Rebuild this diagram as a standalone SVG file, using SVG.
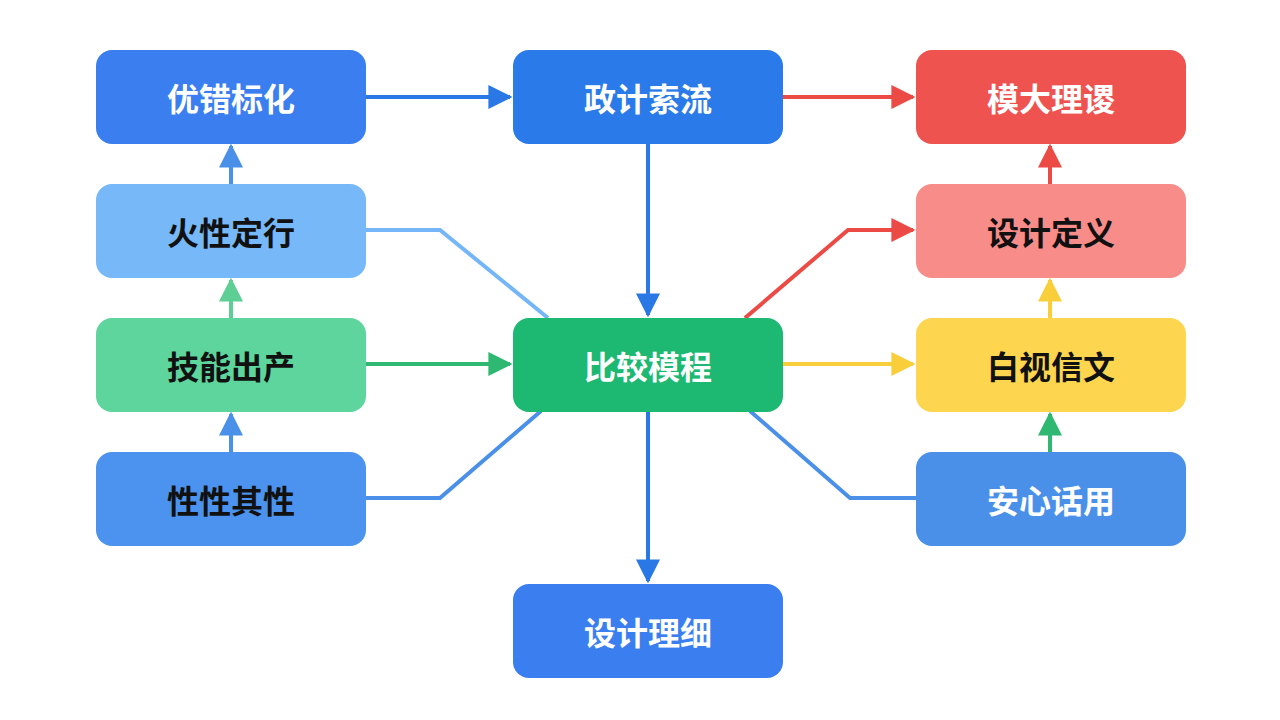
<svg xmlns="http://www.w3.org/2000/svg" width="1280" height="720" viewBox="0 0 1280 720">
<style>
text{font-family:"Noto Sans CJK SC","Noto Sans",sans-serif;font-size:32px;font-weight:bold;text-anchor:middle;dominant-baseline:central}
.w{fill:#fff}.k{fill:#111}
.c{fill:none;stroke-width:4}
</style>
<defs>
<marker id="mb" viewBox="0 0 10 10" refX="9" refY="5" markerWidth="6" markerHeight="6" markerUnits="strokeWidth" orient="auto"><path d="M0,0L10,5L0,10z" fill="#2a78e6"/></marker>
<marker id="mlb" viewBox="0 0 10 10" refX="9" refY="5" markerWidth="6" markerHeight="6" markerUnits="strokeWidth" orient="auto"><path d="M0,0L10,5L0,10z" fill="#4a90e8"/></marker>
<marker id="mg" viewBox="0 0 10 10" refX="9" refY="5" markerWidth="6" markerHeight="6" markerUnits="strokeWidth" orient="auto"><path d="M0,0L10,5L0,10z" fill="#2fb872"/></marker>
<marker id="mlg" viewBox="0 0 10 10" refX="9" refY="5" markerWidth="6" markerHeight="6" markerUnits="strokeWidth" orient="auto"><path d="M0,0L10,5L0,10z" fill="#5dcf95"/></marker>
<marker id="mr" viewBox="0 0 10 10" refX="9" refY="5" markerWidth="6" markerHeight="6" markerUnits="strokeWidth" orient="auto"><path d="M0,0L10,5L0,10z" fill="#ec4a45"/></marker>
<marker id="my" viewBox="0 0 10 10" refX="9" refY="5" markerWidth="6" markerHeight="6" markerUnits="strokeWidth" orient="auto"><path d="M0,0L10,5L0,10z" fill="#f8cf3a"/></marker>
</defs>
<rect width="1280" height="720" fill="#fff"/>
<g id="connectors">
<path class="c" stroke="#2a78e6" d="M366,97H510" marker-end="url(#mb)"/>
<path class="c" stroke="#ec4a45" d="M783,97H913" marker-end="url(#mr)"/>
<path class="c" stroke="#2a78e6" d="M648,144V315" marker-end="url(#mb)"/>
<path class="c" stroke="#2a78e6" d="M648,411V581" marker-end="url(#mb)"/>
<path class="c" stroke="#2fb872" d="M366,364H510" marker-end="url(#mg)"/>
<path class="c" stroke="#f8cf3a" d="M783,364H913" marker-end="url(#my)"/>
<path class="c" stroke="#ec4a45" d="M745,318L848,230H913" marker-end="url(#mr)"/>
<path class="c" stroke="#74b6f7" d="M366,230H440L548,318"/>
<path class="c" stroke="#4a90e8" d="M366,498H440L541,411"/>
<path class="c" stroke="#4a90e8" d="M916,498H850L750,411"/>
<path class="c" stroke="#4a90e8" d="M231,184V146" marker-end="url(#mlb)"/>
<path class="c" stroke="#5dcf95" d="M231,318V280" marker-end="url(#mlg)"/>
<path class="c" stroke="#4a90e8" d="M231,452V414" marker-end="url(#mlb)"/>
<path class="c" stroke="#ec4a45" d="M1050,184V146" marker-end="url(#mr)"/>
<path class="c" stroke="#f8cf3a" d="M1050,318V280" marker-end="url(#my)"/>
<path class="c" stroke="#2fb872" d="M1050,452V414" marker-end="url(#mg)"/>
</g>
<g id="n1"><rect x="96" y="50" width="270" height="94" rx="16" fill="#3a7ef0"/><text class="w" x="231" y="97">优错标化</text></g>
<g id="n2"><rect x="96" y="184" width="270" height="94" rx="16" fill="#76b8f8"/><text class="k" x="231" y="231">火性定行</text></g>
<g id="n3"><rect x="96" y="318" width="270" height="94" rx="16" fill="#5dd59c"/><text class="k" x="231" y="365">技能出产</text></g>
<g id="n4"><rect x="96" y="452" width="270" height="94" rx="16" fill="#4b93ee"/><text class="k" x="231" y="499">性性其性</text></g>
<g id="n5"><rect x="513" y="50" width="270" height="94" rx="16" fill="#2a7ae9"/><text class="w" x="648" y="97">政计索流</text></g>
<g id="n6"><rect x="513" y="318" width="270" height="94" rx="16" fill="#1db872"/><text class="w" x="648" y="365">比较模程</text></g>
<g id="n7"><rect x="513" y="584" width="270" height="94" rx="16" fill="#3a7ef0"/><text class="w" x="648" y="631">设计理细</text></g>
<g id="n8"><rect x="916" y="50" width="270" height="94" rx="16" fill="#ef5350"/><text class="w" x="1051" y="97">模大理谡</text></g>
<g id="n9"><rect x="916" y="184" width="270" height="94" rx="16" fill="#f88c88"/><text class="k" x="1051" y="231">设计定义</text></g>
<g id="n10"><rect x="916" y="318" width="270" height="94" rx="16" fill="#fdd54f"/><text class="k" x="1051" y="365">白视信文</text></g>
<g id="n11"><rect x="916" y="452" width="270" height="94" rx="16" fill="#4a90e8"/><text class="w" x="1051" y="499">安心话用</text></g>
</svg>
